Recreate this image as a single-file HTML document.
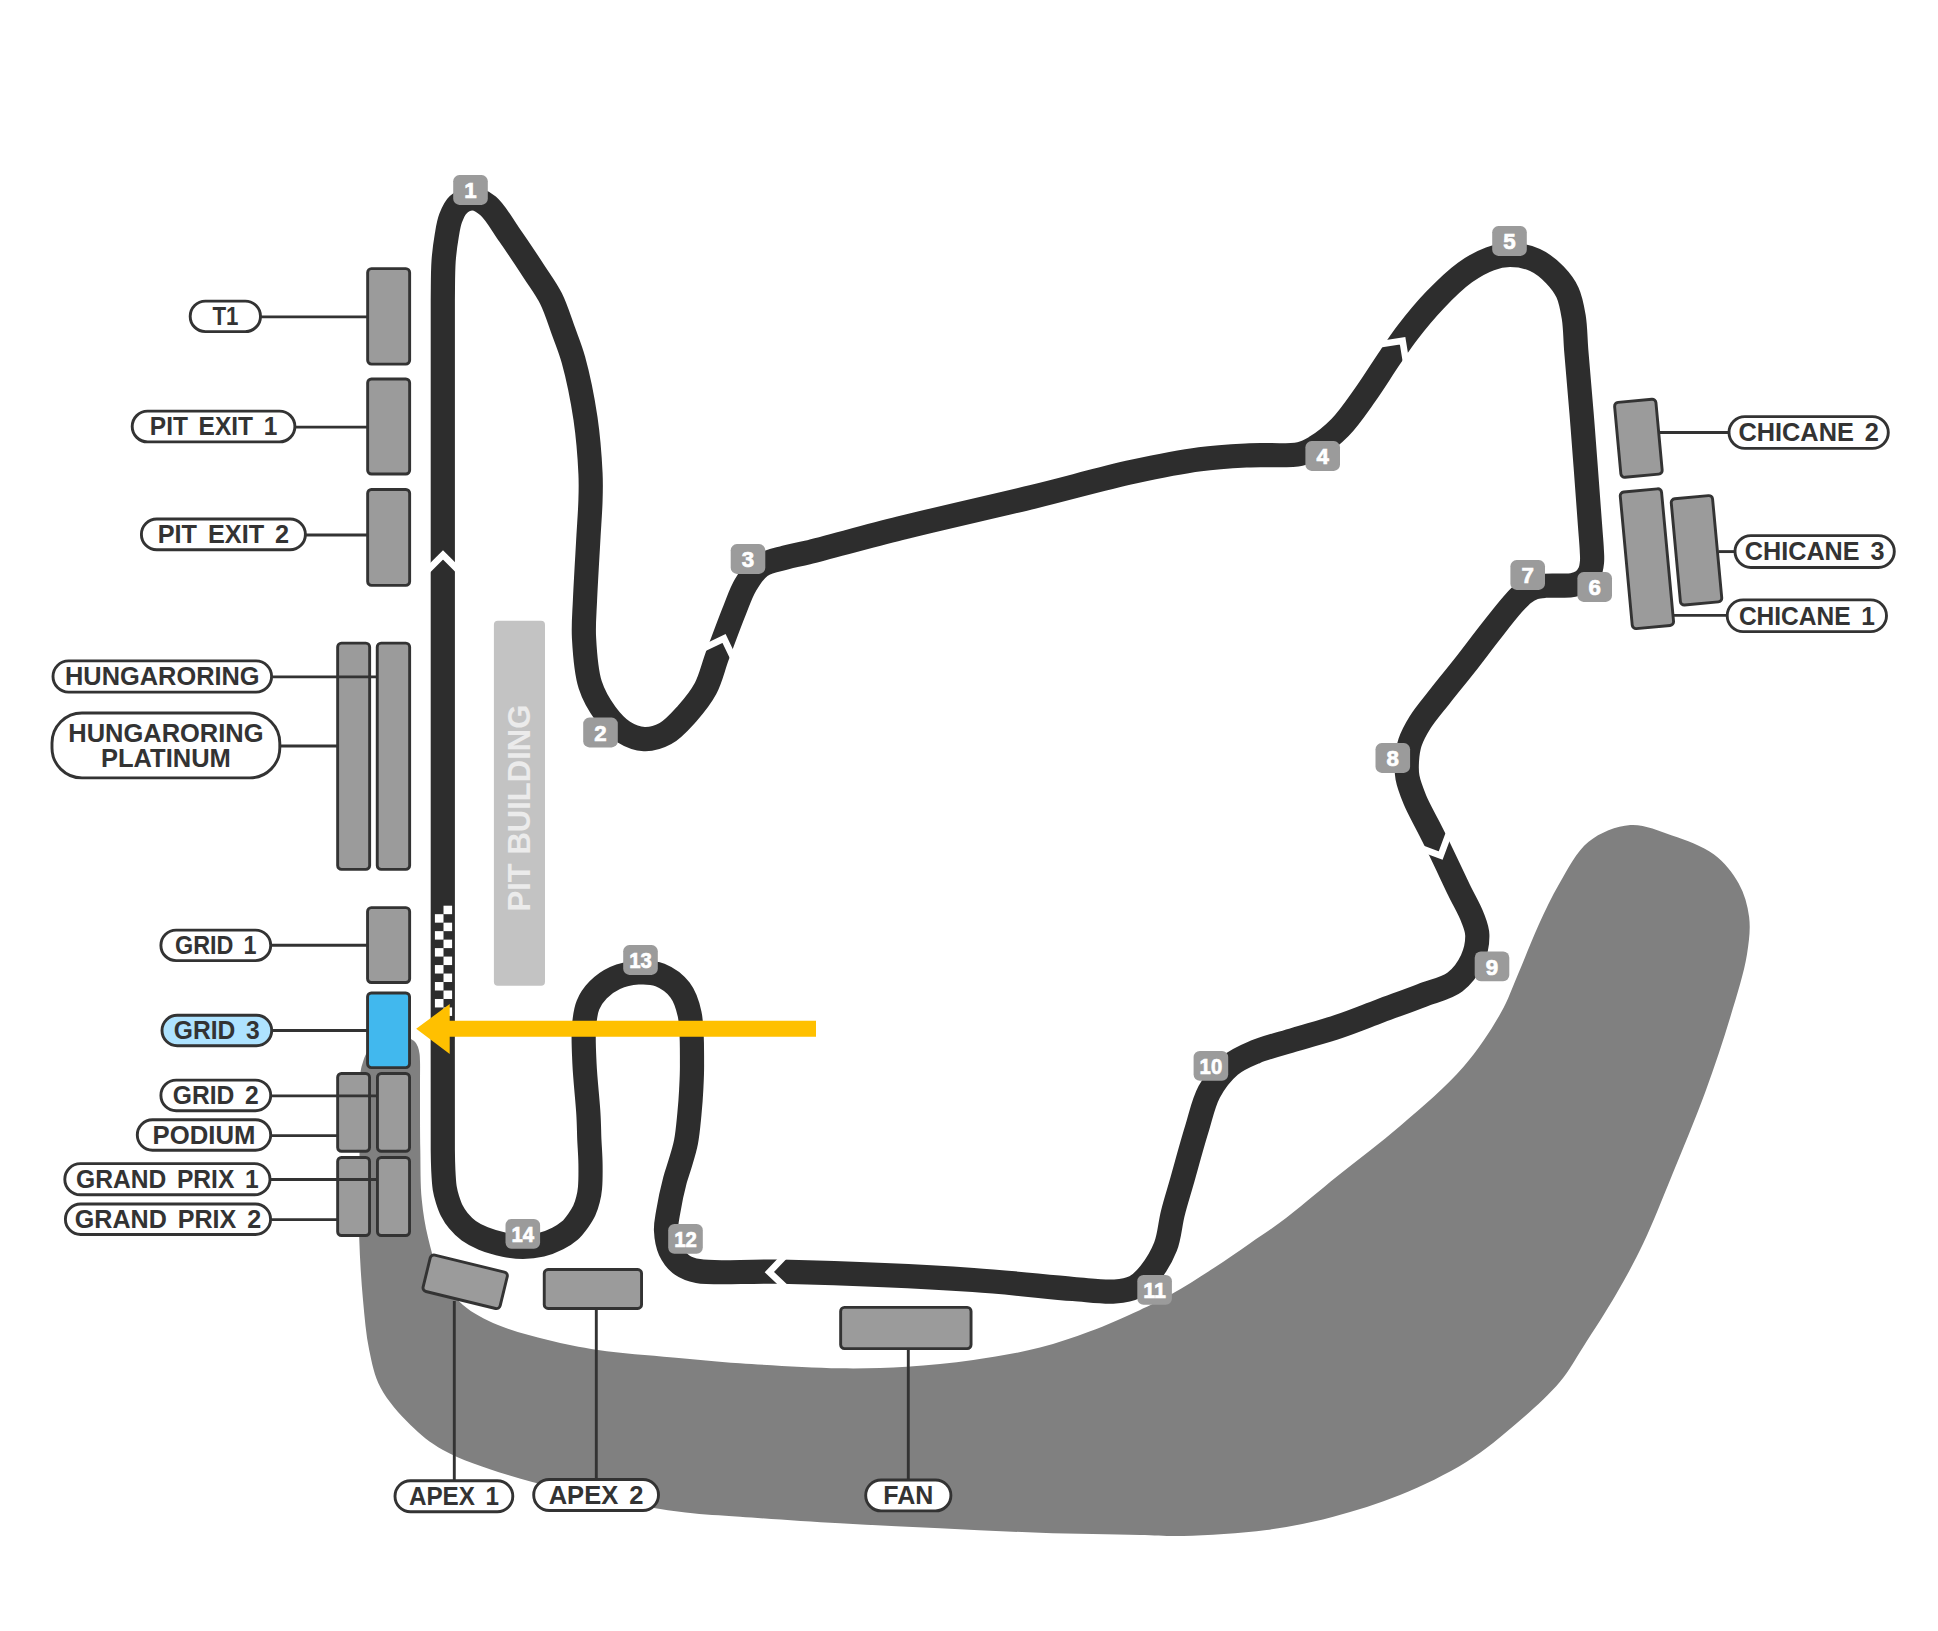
<!DOCTYPE html>
<html lang="en"><head><meta charset="utf-8"><title>Hungaroring circuit map</title>
<style>html,body{margin:0;padding:0;background:#fff}body{width:1938px;height:1631px;overflow:hidden}svg{display:block}text{font-family:"Liberation Sans",Arial,sans-serif;font-weight:bold}.lb{fill:#333;font-size:25.3px;word-spacing:4px}.bn{fill:#fff;font-size:22.3px;stroke:#fff;stroke-width:0.7px}.pill{fill:#fff;stroke:#333;stroke-width:2.9}.box{fill:#9b9b9b;stroke:#333;stroke-width:2.9}.ln{stroke:#333;stroke-width:2.9;fill:none}.bd{fill:#9b9b9b}</style></head><body>
<svg width="1938" height="1631" viewBox="0 0 1938 1631">
<rect width="1938" height="1631" fill="#fff"/>
<path d="M395.0,1035.0C390.9,1035.2 385.9,1036.3 382.0,1038.0C378.3,1039.7 374.7,1042.3 372.0,1045.0C369.5,1047.5 367.8,1050.6 366.3,1053.5C364.9,1056.1 364.1,1058.5 363.2,1061.3C362.2,1064.5 361.1,1067.6 360.6,1071.6C359.9,1076.8 360.3,1081.9 360.2,1090.0C360.0,1105.8 359.8,1136.1 359.6,1160.0C359.4,1185.2 358.6,1213.1 359.2,1237.5C359.9,1259.5 361.2,1280.4 363.0,1300.0C364.6,1317.6 366.0,1334.7 369.2,1350.0C372.1,1363.5 374.2,1375.6 380.5,1387.5C387.4,1400.7 399.6,1414.3 410.5,1425.0C420.6,1434.9 429.7,1442.5 443.0,1450.0C460.4,1459.8 483.6,1467.4 508.0,1475.0C538.0,1484.4 578.9,1493.5 610.5,1500.0C637.3,1505.5 662.4,1509.7 685.5,1512.5C705.1,1514.9 719.1,1515.2 740.0,1516.7C768.3,1518.7 806.7,1521.4 840.0,1523.3C873.3,1525.2 906.7,1526.7 940.0,1528.3C973.3,1529.9 1006.7,1531.6 1040.0,1532.7C1073.3,1533.8 1113.5,1534.4 1140.0,1535.0C1157.4,1535.4 1166.5,1536.4 1183.3,1536.0C1206.6,1535.4 1240.6,1533.5 1266.7,1530.0C1290.3,1526.8 1311.3,1522.5 1333.3,1516.7C1355.7,1510.8 1378.1,1504.0 1400.0,1495.0C1422.6,1485.7 1446.6,1474.3 1466.7,1461.7C1485.2,1450.1 1501.0,1436.8 1516.7,1423.3C1532.0,1410.1 1548.4,1395.6 1560.0,1381.7C1569.7,1370.1 1574.9,1359.7 1583.3,1346.7C1593.5,1330.8 1606.5,1311.0 1616.7,1293.3C1626.4,1276.5 1634.7,1261.5 1643.3,1243.3C1653.2,1222.6 1662.2,1199.1 1672.0,1175.2C1682.8,1148.9 1695.3,1119.1 1705.3,1091.9C1714.7,1066.4 1723.2,1040.8 1730.4,1016.8C1736.9,995.1 1744.1,972.6 1747.0,954.3C1749.2,940.3 1750.6,928.7 1749.1,916.7C1747.7,905.1 1744.3,893.6 1738.7,883.4C1732.8,872.7 1724.1,862.0 1713.7,854.2C1702.3,845.7 1686.1,840.3 1672.0,835.4C1658.3,830.6 1644.0,824.1 1630.3,825.0C1616.2,826.0 1600.2,832.5 1588.6,841.7C1576.3,851.5 1567.9,869.2 1559.4,883.4C1551.3,897.0 1545.3,910.4 1538.6,925.0C1531.4,940.8 1524.4,959.6 1517.7,975.0C1511.9,988.5 1508.5,999.3 1501.0,1012.6C1491.5,1029.4 1478.7,1049.2 1463.5,1066.8C1446.2,1086.9 1422.2,1106.9 1401.0,1125.2C1380.5,1142.9 1359.0,1158.7 1338.5,1175.2C1318.7,1191.2 1296.4,1210.2 1280.0,1222.5C1268.7,1231.0 1260.9,1235.7 1250.5,1242.9C1238.9,1250.9 1226.3,1259.9 1213.4,1268.3C1199.9,1277.1 1184.6,1286.9 1171.3,1294.3C1160.0,1300.6 1151.1,1304.9 1139.1,1310.4C1124.4,1317.2 1106.2,1325.3 1089.5,1331.5C1073.1,1337.6 1057.9,1343.0 1040.0,1347.6C1019.6,1352.8 995.6,1356.8 973.3,1360.0C951.2,1363.2 928.9,1365.3 906.7,1366.7C884.5,1368.1 864.5,1368.6 840.0,1368.3C810.0,1367.9 770.0,1365.3 740.0,1363.3C715.4,1361.6 696.0,1359.6 673.0,1357.5C648.7,1355.2 620.4,1353.4 598.0,1350.0C579.6,1347.2 564.6,1344.1 548.0,1340.0C531.2,1335.8 512.9,1331.4 498.0,1325.0C484.9,1319.4 472.8,1313.5 463.0,1305.0C453.5,1296.7 445.8,1286.1 440.0,1275.0C434.1,1263.7 431.1,1250.1 428.0,1237.5C425.0,1225.1 423.1,1213.4 421.8,1200.0C420.2,1184.6 420.6,1166.7 420.3,1150.0C420.0,1133.3 420.0,1112.9 420.0,1100.0C420.0,1091.8 420.0,1086.6 420.0,1080.0C420.0,1073.7 420.2,1066.2 420.0,1061.3C419.9,1058.1 419.9,1056.0 419.5,1053.5C419.1,1051.2 418.7,1048.8 417.9,1046.8C417.1,1044.9 416.1,1043.0 414.8,1041.7C413.6,1040.5 412.2,1039.9 410.7,1039.1C409.0,1038.2 407.2,1037.2 405.0,1036.5C402.2,1035.7 398.5,1034.9 395.0,1035.0Z" fill="#808080"/>
<rect x="493.9" y="620.7" width="51.1" height="365.1" rx="4" fill="#c3c3c3"/>
<text transform="translate(530.05,808.1) rotate(-90)" text-anchor="middle" textLength="206.8" lengthAdjust="spacingAndGlyphs" style="font-size:32px;fill:#ebebeb">PIT BUILDING</text>
<path class="ln" d="M454.3,1301 L454.3,1480"/>
<path class="ln" d="M596.3,1308 L596.3,1479"/>
<path class="ln" d="M908.3,1349 L908.3,1480"/>
<rect class="box" x="367.65" y="268.65" width="42.00" height="95.50" rx="3.8"/>
<rect class="box" x="367.65" y="378.95" width="42.00" height="95.10" rx="3.8"/>
<rect class="box" x="367.65" y="489.45" width="42.00" height="95.90" rx="3.8"/>
<rect class="box" x="337.65" y="643.15" width="32.00" height="226.20" rx="3.8"/>
<rect class="box" x="377.25" y="643.15" width="32.40" height="226.20" rx="3.8"/>
<rect class="box" x="367.55" y="907.65" width="42.10" height="74.90" rx="3.8"/>
<rect class="box" x="367.55" y="992.95" width="42.00" height="74.70" rx="3.8" style="fill:#41b8ee"/>
<rect class="box" x="337.65" y="1073.45" width="31.90" height="77.80" rx="3.8"/>
<rect class="box" x="377.45" y="1073.45" width="32.10" height="77.80" rx="3.8"/>
<rect class="box" x="337.65" y="1157.45" width="31.90" height="78.10" rx="3.8"/>
<rect class="box" x="377.45" y="1157.45" width="32.10" height="78.10" rx="3.8"/>
<rect class="box" x="544.25" y="1269.55" width="97.30" height="38.90" rx="3.8"/>
<rect class="box" x="840.65" y="1307.35" width="130.40" height="41.30" rx="3.8"/>
<rect class="box" x="425.55" y="1263.05" width="79.3" height="37.5" rx="3.8" transform="rotate(13.7 465.2 1281.8)"/>
<rect class="box" x="1617.65" y="400.7" width="41.5" height="75.2" rx="3.8" transform="rotate(-5.3 1638.4 438.3)"/>
<rect class="box" x="1626.15" y="490.1" width="41.5" height="137.2" rx="3.8" transform="rotate(-5.3 1646.9 558.7)"/>
<rect class="box" x="1675.75" y="496.95" width="41.5" height="106.7" rx="3.8" transform="rotate(-5.3 1696.5 550.3)"/>
<path class="ln" d="M261,316.9 L367,316.9"/>
<path class="ln" d="M295.7,427.1 L367,427.1"/>
<path class="ln" d="M306,535 L367,535"/>
<path class="ln" d="M272.4,676.9 L376.6,676.9"/>
<path class="ln" d="M280.5,746 L337,746"/>
<path class="ln" d="M271.4,945.2 L367.5,945.2"/>
<path class="ln" d="M272.4,1030.5 L367.5,1030.5"/>
<path class="ln" d="M271.4,1095.9 L376.8,1095.9"/>
<path class="ln" d="M271.4,1135.6 L337,1135.6"/>
<path class="ln" d="M270.7,1179.5 L376.8,1179.5"/>
<path class="ln" d="M271.4,1219.6 L337,1219.6"/>
<path class="ln" d="M1660,432.5 L1728.3,432.5"/>
<path class="ln" d="M1718.5,551.6 L1734.3,551.6"/>
<path class="ln" d="M1673.5,615.4 L1726.5,615.4"/>
<path d="M442.8,1150.0C442.5,1123.3 442.8,1053.6 442.8,1000.0C442.8,938.1 442.8,866.7 442.8,800.0C442.8,733.3 442.8,666.7 442.8,600.0C442.8,533.3 442.8,455.2 442.8,400.0C442.8,360.9 442.5,325.6 442.8,300.0C443.0,284.0 442.8,272.5 443.6,261.0C444.3,251.7 445.4,243.6 446.7,236.0C447.8,229.6 448.5,223.8 450.5,218.5C452.4,213.6 454.4,208.3 458.0,205.0C461.7,201.6 467.6,198.4 472.5,198.5C477.6,198.6 483.0,201.7 488.1,205.9C495.3,211.9 501.8,224.1 509.0,234.4C517.2,246.1 527.0,260.8 534.5,272.3C540.7,281.8 546.2,289.0 551.0,298.5C556.1,308.7 559.8,321.2 563.7,331.8C567.2,341.5 570.3,348.6 573.4,359.7C577.8,375.6 582.6,399.1 585.5,418.5C588.2,437.1 589.8,458.5 590.5,473.5C591.0,483.9 590.8,490.5 590.5,500.0C590.2,511.1 589.3,522.3 588.5,536.0C587.5,554.3 585.8,581.5 585.0,600.0C584.4,614.2 583.3,624.3 584.0,637.5C584.8,652.4 585.8,671.2 590.2,684.8C593.8,696.1 599.8,706.0 605.9,714.2C611.2,721.3 617.0,727.8 623.7,732.0C629.9,735.9 637.3,738.8 644.2,739.1C651.2,739.4 658.8,737.2 665.5,733.5C673.2,729.3 680.3,721.1 686.9,713.8C693.7,706.2 700.6,697.8 705.6,688.4C710.8,678.6 712.9,667.9 717.2,656.2C722.4,642.2 729.4,623.0 734.7,610.0C738.6,600.3 741.0,592.5 745.5,585.0C749.7,577.9 754.0,570.6 760.5,566.0C767.2,561.2 777.4,559.8 785.5,557.5C793.0,555.4 797.7,554.9 807.5,552.5C827.7,547.6 866.3,536.7 900.0,528.3C940.3,518.2 992.1,506.7 1033.3,496.7C1069.1,488.0 1103.2,478.2 1133.3,471.7C1157.7,466.4 1179.3,462.0 1200.0,459.3C1217.8,456.9 1233.3,456.2 1250.0,455.3C1266.7,454.4 1288.4,456.6 1300.0,454.0C1306.6,452.5 1309.6,450.7 1315.0,447.5C1322.6,443.0 1332.1,435.5 1340.0,427.5C1348.9,418.4 1356.9,406.4 1365.0,395.0C1373.5,383.1 1382.3,368.7 1390.0,357.5C1396.3,348.3 1400.8,341.2 1407.5,332.5C1415.4,322.2 1425.3,310.1 1435.0,300.0C1444.5,290.1 1455.0,279.7 1465.0,272.5C1473.4,266.5 1481.9,261.7 1490.0,258.8C1496.8,256.3 1503.0,255.0 1510.0,255.0C1517.9,255.0 1527.5,256.6 1535.0,260.0C1542.5,263.3 1549.5,269.3 1555.0,275.0C1560.1,280.3 1564.4,285.8 1567.5,292.5C1570.9,299.8 1572.3,308.6 1573.8,317.5C1575.4,327.6 1575.2,336.9 1576.2,350.0C1577.8,369.9 1580.4,398.2 1582.5,425.0C1584.9,455.9 1588.4,502.8 1590.0,525.0C1590.8,536.1 1591.5,543.2 1591.8,550.0C1592.0,554.7 1592.4,558.1 1592.0,562.0C1591.6,565.8 1591.1,569.8 1589.5,573.0C1588.0,576.1 1585.7,579.0 1583.0,581.0C1580.2,583.0 1576.6,584.2 1573.0,585.0C1569.0,585.9 1564.5,585.5 1560.0,585.6C1555.2,585.7 1549.6,585.4 1545.0,585.8C1541.0,586.1 1537.5,586.3 1534.0,587.5C1530.5,588.7 1527.3,590.5 1524.0,593.0C1520.1,595.9 1516.8,599.7 1512.5,604.5C1506.1,611.7 1497.6,622.8 1490.0,632.5C1481.8,642.9 1473.4,654.3 1465.0,665.0C1456.7,675.6 1447.8,686.2 1440.0,696.2C1432.9,705.3 1425.2,714.1 1420.0,722.5C1415.7,729.4 1412.2,735.9 1410.0,742.5C1408.1,748.4 1407.4,754.1 1407.0,760.0C1406.6,765.8 1406.4,771.4 1407.5,777.5C1408.8,784.6 1411.9,792.4 1415.0,800.0C1418.4,808.2 1423.3,816.7 1427.5,825.0C1431.7,833.3 1435.5,840.7 1440.0,850.0C1445.7,861.7 1453.2,877.9 1459.0,890.0C1463.8,900.0 1469.4,909.2 1472.5,917.5C1474.9,923.9 1477.1,928.6 1477.3,935.0C1477.5,942.6 1475.6,952.3 1472.0,960.0C1468.3,968.0 1462.6,976.2 1455.0,982.0C1446.4,988.5 1433.5,990.9 1421.8,995.5C1408.7,1000.6 1393.9,1005.8 1380.0,1011.0C1366.1,1016.2 1352.6,1021.8 1338.5,1026.5C1324.2,1031.3 1309.2,1035.2 1295.0,1039.5C1281.4,1043.7 1266.6,1047.1 1255.0,1052.0C1245.5,1056.0 1237.4,1059.3 1230.0,1065.5C1222.0,1072.3 1214.7,1081.8 1209.2,1091.9C1203.3,1102.9 1200.9,1115.9 1196.7,1129.4C1191.8,1145.2 1186.3,1165.8 1182.0,1181.0C1178.6,1193.0 1175.5,1202.4 1172.8,1213.3C1170.0,1224.3 1169.5,1236.5 1165.5,1246.7C1161.7,1256.4 1155.7,1266.2 1150.0,1273.3C1145.4,1279.0 1140.8,1284.0 1135.0,1287.0C1129.2,1290.0 1122.9,1290.9 1115.0,1291.5C1103.7,1292.4 1090.2,1290.3 1073.3,1289.0C1047.1,1287.0 1012.1,1282.6 973.3,1280.0C919.4,1276.4 830.8,1273.0 780.0,1271.7C746.9,1270.8 714.6,1274.1 698.0,1271.0C690.4,1269.6 686.6,1268.3 682.0,1265.0C677.1,1261.5 672.7,1255.7 670.0,1250.0C667.3,1244.1 666.3,1236.4 666.0,1230.0C665.8,1224.1 666.9,1219.6 668.0,1213.0C669.5,1203.8 672.6,1189.0 675.0,1180.0C676.7,1173.7 678.3,1169.8 680.0,1164.0C682.0,1157.3 684.5,1149.8 686.0,1142.0C687.7,1133.3 688.5,1123.0 689.4,1114.0C690.2,1105.7 690.8,1098.2 691.2,1090.0C691.6,1081.5 692.1,1074.1 692.0,1064.0C691.9,1050.0 692.5,1027.4 689.6,1014.0C687.5,1004.3 685.0,996.5 680.0,990.0C675.1,983.6 667.2,977.9 660.0,975.0C653.2,972.3 645.4,972.1 638.0,972.5C630.4,973.0 621.8,974.9 615.0,978.0C608.6,980.9 602.6,985.3 598.0,990.0C593.7,994.4 590.3,999.3 588.0,1005.0C585.4,1011.3 584.7,1018.3 584.0,1026.5C583.1,1037.2 583.9,1050.6 584.5,1064.0C585.2,1079.5 587.6,1100.2 588.4,1114.0C589.0,1123.8 589.0,1130.7 589.3,1139.0C589.7,1147.3 590.4,1155.7 590.5,1164.0C590.6,1172.1 590.6,1181.5 590.0,1188.0C589.6,1192.6 589.0,1195.7 588.0,1199.5C587.1,1203.2 585.9,1207.0 584.3,1210.5C582.7,1214.0 580.5,1217.3 578.2,1220.6C575.7,1224.1 573.0,1227.8 569.7,1230.7C566.2,1233.8 562.2,1236.2 557.7,1238.5C552.8,1241.0 546.9,1243.4 541.2,1244.8C535.4,1246.2 529.1,1246.9 523.0,1246.9C516.9,1246.9 511.1,1246.1 504.8,1244.8C497.9,1243.4 489.6,1241.1 483.3,1238.5C477.9,1236.3 473.1,1233.8 468.8,1230.7C464.8,1227.8 461.2,1224.1 458.3,1220.6C455.6,1217.4 453.5,1214.0 451.7,1210.5C449.9,1207.0 448.7,1203.2 447.5,1199.5C446.3,1195.7 445.4,1192.3 444.7,1188.0C443.9,1182.7 443.6,1176.2 443.3,1170.0C443.0,1163.5 442.9,1159.8 442.8,1150.0Z" fill="none" stroke="#2d2d2d" stroke-width="24.2" stroke-linejoin="round"/>
<g fill="#fff">
<rect x="443.50" y="905.70" width="8.60" height="8.48"/>
<rect x="434.90" y="914.18" width="8.60" height="8.48"/>
<rect x="443.50" y="922.66" width="8.60" height="8.48"/>
<rect x="434.90" y="931.14" width="8.60" height="8.48"/>
<rect x="443.50" y="939.62" width="8.60" height="8.48"/>
<rect x="434.90" y="948.10" width="8.60" height="8.48"/>
<rect x="443.50" y="956.58" width="8.60" height="8.48"/>
<rect x="434.90" y="965.06" width="8.60" height="8.48"/>
<rect x="443.50" y="973.54" width="8.60" height="8.48"/>
<rect x="434.90" y="982.02" width="8.60" height="8.48"/>
<rect x="443.50" y="990.50" width="8.60" height="8.48"/>
<rect x="434.90" y="998.98" width="8.60" height="8.48"/>
<rect x="443.50" y="1007.46" width="8.60" height="8.48"/>
</g>
<path d="M-16,16 L0,0 L16,16" transform="translate(443,554.85) rotate(0)" fill="none" stroke="#fff" stroke-width="6.6" stroke-linejoin="miter"/>
<path d="M-16,16 L0,0 L16,16" transform="translate(724.05,638.5) rotate(19.5)" fill="none" stroke="#fff" stroke-width="6.6" stroke-linejoin="miter"/>
<path d="M-16,16 L0,0 L16,16" transform="translate(1402.6,340.7) rotate(35.8)" fill="none" stroke="#fff" stroke-width="6.6" stroke-linejoin="miter"/>
<path d="M-16,16 L0,0 L16,16" transform="translate(1440.65,855.6) rotate(155.4)" fill="none" stroke="#fff" stroke-width="6.6" stroke-linejoin="miter"/>
<path d="M-16,16 L0,0 L16,16" transform="translate(769.35,1272.1) rotate(-91.5)" fill="none" stroke="#fff" stroke-width="6.6" stroke-linejoin="miter"/>
<path d="M416.2,1028.7 L449.7,1004.1 L449.7,1020.8 L816,1020.8 L816,1036.7 L449.7,1036.7 L449.7,1053.9 Z" fill="#ffc000"/>
<rect class="bd" x="453.2" y="175.1" width="34.6" height="29.8" rx="6.2"/>
<text class="bn" x="470.5" y="198.3" text-anchor="middle">1</text>
<rect class="bd" x="583.2" y="717.6" width="34.6" height="29.8" rx="6.2"/>
<text class="bn" x="600.5" y="740.8" text-anchor="middle">2</text>
<rect class="bd" x="730.7" y="544.1" width="34.6" height="29.8" rx="6.2"/>
<text class="bn" x="748.0" y="567.3" text-anchor="middle">3</text>
<rect class="bd" x="1305.4" y="441.1" width="34.6" height="29.8" rx="6.2"/>
<text class="bn" x="1322.7" y="464.3" text-anchor="middle">4</text>
<rect class="bd" x="1492.2" y="226.1" width="34.6" height="29.8" rx="6.2"/>
<text class="bn" x="1509.5" y="249.3" text-anchor="middle">5</text>
<rect class="bd" x="1577.4" y="572.1" width="34.6" height="29.8" rx="6.2"/>
<text class="bn" x="1594.7" y="595.3" text-anchor="middle">6</text>
<rect class="bd" x="1510.4" y="560.1" width="34.6" height="29.8" rx="6.2"/>
<text class="bn" x="1527.7" y="583.3" text-anchor="middle">7</text>
<rect class="bd" x="1375.5" y="743.1" width="34.6" height="29.8" rx="6.2"/>
<text class="bn" x="1392.8" y="766.3" text-anchor="middle">8</text>
<rect class="bd" x="1474.7" y="951.5" width="34.6" height="29.8" rx="6.2"/>
<text class="bn" x="1492.0" y="974.7" text-anchor="middle">9</text>
<rect class="bd" x="1193.6" y="1050.9" width="34.6" height="29.8" rx="6.2"/>
<text class="bn" x="1210.9" y="1074.1" text-anchor="middle" textLength="22.6" lengthAdjust="spacingAndGlyphs">10</text>
<rect class="bd" x="1137.3" y="1275.0" width="34.6" height="29.8" rx="6.2"/>
<text class="bn" x="1154.6" y="1298.2" text-anchor="middle" textLength="22.6" lengthAdjust="spacingAndGlyphs">11</text>
<rect class="bd" x="668.2" y="1224.0" width="34.6" height="29.8" rx="6.2"/>
<text class="bn" x="685.5" y="1247.2" text-anchor="middle" textLength="22.6" lengthAdjust="spacingAndGlyphs">12</text>
<rect class="bd" x="623.2" y="945.1" width="34.6" height="29.8" rx="6.2"/>
<text class="bn" x="640.5" y="968.3" text-anchor="middle" textLength="22.6" lengthAdjust="spacingAndGlyphs">13</text>
<rect class="bd" x="505.5" y="1218.9" width="34.6" height="29.8" rx="6.2"/>
<text class="bn" x="522.8" y="1242.1" text-anchor="middle" textLength="22.6" lengthAdjust="spacingAndGlyphs">14</text>
<rect class="pill" x="190.2" y="301.1" width="70.3" height="30.5" rx="15.2"/>
<text class="lb" x="225.4" y="325.2" text-anchor="middle" textLength="26" lengthAdjust="spacingAndGlyphs">T1</text>
<rect class="pill" x="132.2" y="411.1" width="162.7" height="30.8" rx="15.4"/>
<text class="lb" x="213.6" y="435.3" text-anchor="middle" textLength="127.5" lengthAdjust="spacingAndGlyphs">PIT EXIT 1</text>
<rect class="pill" x="141.4" y="519.0" width="164.0" height="30.8" rx="15.4"/>
<text class="lb" x="223.4" y="543.2" text-anchor="middle" textLength="131.5" lengthAdjust="spacingAndGlyphs">PIT EXIT 2</text>
<rect class="pill" x="53.0" y="660.9" width="218.6" height="31.2" rx="15.6"/>
<text class="lb" x="162.3" y="685.3" text-anchor="middle" textLength="194.6" lengthAdjust="spacingAndGlyphs">HUNGARORING</text>
<rect class="pill" x="52.0" y="713.0" width="227.8" height="64.9" rx="30.0"/>
<text class="lb" x="165.9" y="741.6" text-anchor="middle" textLength="195.3" lengthAdjust="spacingAndGlyphs">HUNGARORING</text>
<text class="lb" x="165.9" y="766.9" text-anchor="middle" textLength="129.9" lengthAdjust="spacingAndGlyphs">PLATINUM</text>
<rect class="pill" x="160.9" y="930.1" width="109.8" height="30.5" rx="15.2"/>
<text class="lb" x="215.8" y="954.2" text-anchor="middle" textLength="81.6" lengthAdjust="spacingAndGlyphs">GRID 1</text>
<rect class="pill" x="162.0" y="1015.3" width="109.7" height="30.5" rx="15.2" style="fill:#aee3ff"/>
<text class="lb" x="216.8" y="1039.4" text-anchor="middle" textLength="86" lengthAdjust="spacingAndGlyphs">GRID 3</text>
<rect class="pill" x="160.9" y="1080.1" width="109.8" height="30.6" rx="15.3"/>
<text class="lb" x="215.8" y="1104.2" text-anchor="middle" textLength="86" lengthAdjust="spacingAndGlyphs">GRID 2</text>
<rect class="pill" x="137.3" y="1119.8" width="133.4" height="30.5" rx="15.2"/>
<text class="lb" x="204.0" y="1143.8" text-anchor="middle" textLength="102.9" lengthAdjust="spacingAndGlyphs">PODIUM</text>
<rect class="pill" x="64.8" y="1163.6" width="205.2" height="31.2" rx="15.6"/>
<text class="lb" x="167.4" y="1188.0" text-anchor="middle" textLength="182.7" lengthAdjust="spacingAndGlyphs">GRAND PRIX 1</text>
<rect class="pill" x="65.4" y="1204.0" width="205.2" height="30.5" rx="15.2"/>
<text class="lb" x="168.0" y="1228.1" text-anchor="middle" textLength="186.4" lengthAdjust="spacingAndGlyphs">GRAND PRIX 2</text>
<rect class="pill" x="395.0" y="1480.7" width="117.8" height="31.0" rx="15.5"/>
<text class="lb" x="453.9" y="1505.0" text-anchor="middle" textLength="90" lengthAdjust="spacingAndGlyphs">APEX 1</text>
<rect class="pill" x="533.7" y="1479.5" width="124.8" height="31.0" rx="15.5"/>
<text class="lb" x="596.1" y="1503.8" text-anchor="middle" textLength="94.8" lengthAdjust="spacingAndGlyphs">APEX 2</text>
<rect class="pill" x="865.7" y="1480.0" width="85.2" height="30.9" rx="15.4"/>
<text class="lb" x="908.3" y="1504.3" text-anchor="middle" textLength="50" lengthAdjust="spacingAndGlyphs">FAN</text>
<rect class="pill" x="1729.0" y="416.6" width="159.3" height="31.8" rx="15.9"/>
<text class="lb" x="1808.7" y="441.3" text-anchor="middle" textLength="140.5" lengthAdjust="spacingAndGlyphs">CHICANE 2</text>
<rect class="pill" x="1735.0" y="535.6" width="159.3" height="31.9" rx="15.9"/>
<text class="lb" x="1814.7" y="560.4" text-anchor="middle" textLength="139.7" lengthAdjust="spacingAndGlyphs">CHICANE 3</text>
<rect class="pill" x="1727.2" y="599.9" width="159.3" height="31.7" rx="15.9"/>
<text class="lb" x="1806.9" y="624.6" text-anchor="middle" textLength="136" lengthAdjust="spacingAndGlyphs">CHICANE 1</text>
</svg></body></html>
